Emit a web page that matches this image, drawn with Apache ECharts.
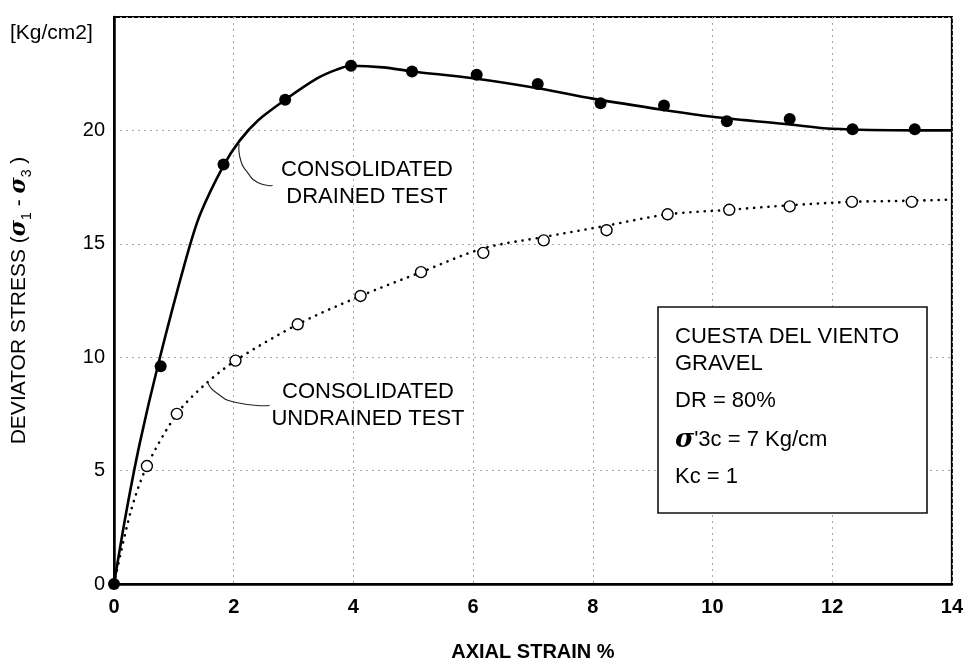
<!DOCTYPE html>
<html><head><meta charset="utf-8">
<script src="https://cdn.jsdelivr.net/npm/echarts@6/dist/echarts.min.js"></script>
<style>html,body{margin:0;padding:0;background:#fff}#c{width:966px;height:667px}</style>
</head><body><div id="c"></div>
<script>
// Measured test points
const drainedX = [0, 0.78, 1.83, 2.86, 3.96, 4.98, 6.06, 7.08, 8.13, 9.19, 10.24, 11.29, 12.34, 13.38];
const drainedY = [0, 9.6, 18.5, 21.35, 22.85, 22.6, 22.45, 22.05, 21.2, 21.1, 20.4, 20.5, 20.05, 20.05];
const undrainedX = [0.55, 1.05, 2.03, 3.07, 4.12, 5.13, 6.17, 7.18, 8.23, 9.25, 10.28, 11.29, 12.33, 13.33];
const undrainedY = [5.2, 7.5, 9.85, 11.45, 12.7, 13.75, 14.6, 15.15, 15.6, 16.3, 16.5, 16.65, 16.85, 16.85];
// Fitted curves
const drainedFitX = [0, 0.2, 0.43, 0.74, 1.2, 1.44, 1.83, 2.1, 2.41, 2.86, 3.4, 3.72, 3.96, 4.5, 4.98, 6.0, 7.08, 8.0, 9.19, 10.0, 11.29, 12.0, 13.38, 14.0];
const drainedFitY = [0, 3.1, 6.2, 9.7, 14.3, 16.3, 18.45, 19.55, 20.45, 21.35, 22.3, 22.68, 22.85, 22.78, 22.6, 22.3, 21.86, 21.4, 20.9, 20.6, 20.26, 20.07, 20.0, 20.0];
const undrainedFitX = [0, 0.28, 0.55, 1.05, 1.5, 2.03, 3.07, 4.12, 5.13, 6.17, 7.18, 8.23, 9.25, 10.28, 11.29, 12.33, 13.33, 14.0];
const undrainedFitY = [0, 3.2, 5.2, 7.5, 8.75, 9.85, 11.45, 12.7, 13.75, 14.8, 15.3, 15.8, 16.3, 16.5, 16.7, 16.85, 16.9, 16.95];
// Axis settings
const xTicks = [0, 2, 4, 6, 8, 10, 12, 14];
const yTicks = [0, 5, 10, 15, 20];
const xTitle = 'AXIAL STRAIN %';
const unitLabel = '[Kg/cm2]';
const drainedLabel = ['CONSOLIDATED', 'DRAINED TEST'];
const undrainedLabel = ['CONSOLIDATED', 'UNDRAINED TEST'];
const infoLines = ['CUESTA DEL VIENTO', 'GRAVEL', 'DR = 80%', "{s|σ}'3c = 7 Kg/cm", 'Kc = 1'];
// leader anchors in data space
const drainedLeader = [[2.09, 19.4], [2.12, 18.65], [2.23, 18.15], [2.40, 17.7], [2.65, 17.57]];
const undrainedLeader = [[1.57, 8.85], [1.71, 8.43], [2.04, 8.0], [2.6, 7.87]];

const FONT = 'Liberation Sans, Arial, sans-serif';
const zip = (a, b) => a.map((v, i) => [v, b[i]]);

const chart = echarts.init(document.getElementById('c'));
chart.setOption({
  animation: false,
  backgroundColor: '#fff',
  grid: { left: 112, right: 7, top: 17, bottom: 81, show: true, borderColor: '#000', borderWidth: 2, backgroundColor: 'transparent' },
  xAxis: {
    type: 'value', min: 0, max: 14, interval: 2,
    name: xTitle, nameLocation: 'middle', nameGap: 58,
    nameTextStyle: { fontFamily: FONT, fontSize: 20, fontWeight: 'bold', color: '#000' },
    axisLine: { show: true, lineStyle: { color: '#000', width: 2.5 } },
    axisTick: { show: false },
    axisLabel: { fontFamily: FONT, fontSize: 20, fontWeight: 'bold', color: '#000', margin: 13,
      formatter: v => xTicks.includes(v) ? String(v) : '' },
    splitLine: { show: true, lineStyle: { color: '#a8a8a8', width: 1, type: [2, 4] } }
  },
  yAxis: {
    type: 'value', min: 0, max: 25, interval: 5,
    name: '{t|DEVIATOR STRESS (}{s|σ}{b|1}{t| - }{s|σ}{b|3}{t| )}',
    nameLocation: 'middle', nameGap: 80,
    nameTextStyle: {
      color: '#000',
      rich: {
        t: { fontFamily: FONT, fontSize: 21, lineHeight: 30, verticalAlign: 'middle', color: '#000' },
        s: { fontFamily: 'DejaVu Serif, serif', fontSize: 22, fontStyle: 'italic', fontWeight: 'bold', lineHeight: 30, verticalAlign: 'middle', color: '#000' },
        b: { fontFamily: FONT, fontSize: 14, lineHeight: 14, verticalAlign: 'bottom', color: '#000' }
      }
    },
    axisLine: { show: true, lineStyle: { color: '#000', width: 2.5 } },
    axisTick: { show: false },
    axisLabel: { fontFamily: FONT, fontSize: 20, color: '#000', margin: 9, showMaxLabel: false,
      formatter: v => yTicks.includes(v) ? String(v) : '' },
    splitLine: { show: true, lineStyle: { color: '#a8a8a8', width: 1, type: [2, 4] } }
  },
  series: [
    { type: 'line', data: zip(drainedFitX, drainedFitY), smooth: 0.3, showSymbol: false, silent: true,
      lineStyle: { color: '#000', width: 2.6 }, z: 2 },
    { type: 'line', data: zip(undrainedFitX, undrainedFitY), smooth: 0.3, showSymbol: false, silent: true,
      lineStyle: { color: '#000', width: 2.6, type: [0.1, 7], cap: 'round' }, z: 2 },
    { type: 'scatter', data: zip(drainedX, drainedY), symbol: 'circle', symbolSize: 12,
      itemStyle: { color: '#000', opacity: 1 }, z: 4 },
    { type: 'scatter', data: zip(undrainedX, undrainedY), symbol: 'circle', symbolSize: 11,
      itemStyle: { color: '#fff', borderColor: '#000', borderWidth: 1.4, opacity: 1 }, z: 4 }
  ]
});

function toPx(p) { return chart.convertToPixel({ gridIndex: 0 }, p); }

const textStyle = (t, x, y) => ({
  type: 'text', x: x, y: y,
  style: { text: t, fontFamily: FONT, fontSize: 22, fill: '#000', align: 'center', verticalAlign: 'middle' }
});

const infoY = [337, 364, 401, 440, 477];
const graphics = [
  { type: 'text', x: 10, y: 33, style: { text: unitLabel, fontFamily: FONT, fontSize: 21, fill: '#000', align: 'left', verticalAlign: 'middle' } },
  textStyle(drainedLabel[0], 367, 170),
  textStyle(drainedLabel[1], 367, 197),
  textStyle(undrainedLabel[0], 368, 392),
  textStyle(undrainedLabel[1], 368, 419),
  { type: 'polyline', shape: { points: drainedLeader.map(toPx), smooth: 0.6 }, style: { stroke: '#222', lineWidth: 1.1, fill: null }, z: 10 },
  { type: 'polyline', shape: { points: undrainedLeader.map(toPx), smooth: 0.6 }, style: { stroke: '#222', lineWidth: 1.1, fill: null }, z: 10 },
  { type: 'rect', shape: { x: 658, y: 307, width: 269, height: 206 }, style: { fill: '#fff', stroke: '#111', lineWidth: 1.6 }, z: 20 }
];
infoLines.forEach((t, i) => {
  graphics.push({
    type: 'text', x: 675, y: infoY[i], z: 21,
    style: {
      text: t, fontFamily: FONT, fontSize: 22, fill: '#000', align: 'left', verticalAlign: 'middle',
      rich: { s: { fontFamily: 'DejaVu Serif, serif', fontSize: 26, fontStyle: 'italic', fontWeight: 'bold', fill: '#000' } }
    }
  });
});
chart.setOption({ graphic: graphics });
</script>
</body></html>
